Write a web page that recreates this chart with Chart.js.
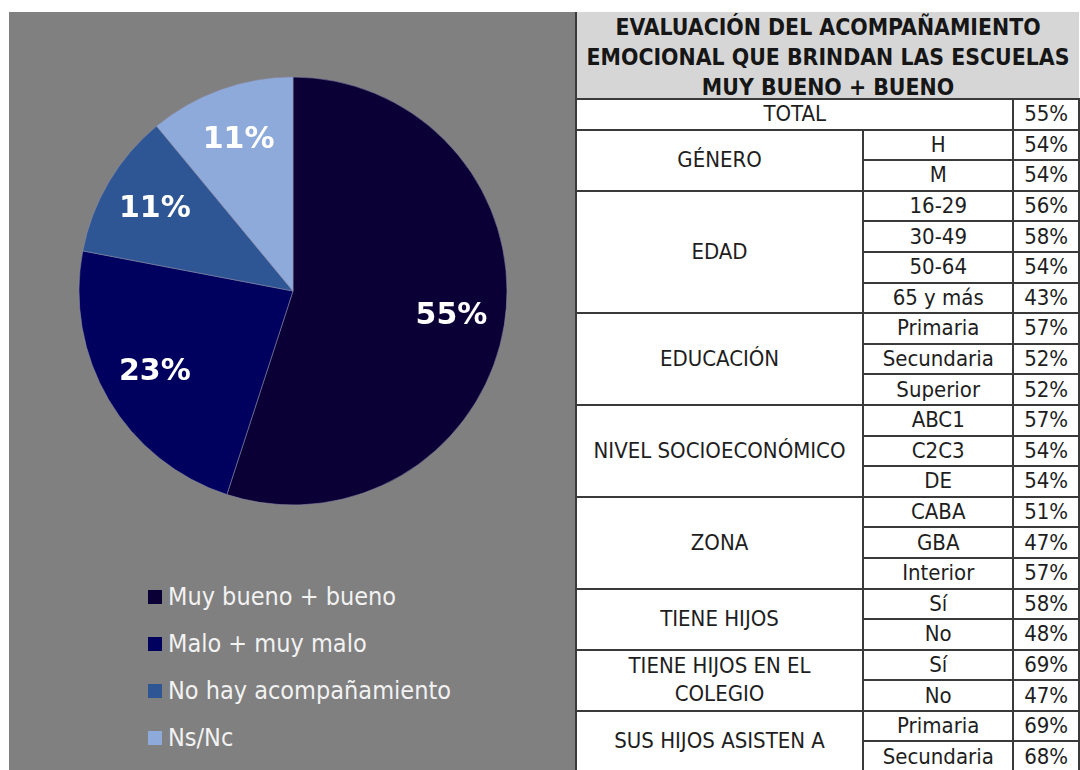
<!DOCTYPE html>
<html>
<head>
<meta charset="utf-8">
<script src="https://cdn.jsdelivr.net/npm/chart.js@4.4.0/dist/chart.umd.min.js"></script>
<style>
  html, body { margin: 0; padding: 0; background: #fff; width: 1080px; height: 770px; overflow: hidden; }
  #panel { position: absolute; left: 9px; top: 12px; width: 566px; height: 758px; background: #808080; }
  #pieBox { position: absolute; left: 69px; top: 64px; width: 430px; height: 430px; }
  #legend { position: absolute; left: 139px; top: 561px; font-family: "DejaVu Sans Condensed", "DejaVu Sans", sans-serif; font-stretch: condensed; font-size: 25px; color: #f2f2f2; }
  #legend div { height: 47px; display: flex; align-items: center; }
  #legend span.box { width: 14px; height: 14px; margin-right: 6px; display: inline-block; }
  #tbl { position: absolute; left: 575px; top: 12px; border-collapse: collapse; table-layout: fixed; font-family: "DejaVu Sans Condensed", "DejaVu Sans", sans-serif; font-stretch: condensed; font-size: 22px; color: #1e1e1e; }
  #tbl td { border: 2px solid #3a3a3a; padding: 0; text-align: center; height: 28.6px; line-height: 28px; overflow: hidden; white-space: pre-line; }
  #tbl td.sub, #tbl td.val { border-left-color: #6a6a6a; }
  #tbl td.head { background: #d6d6d6; font-weight: bold; font-size: 22.8px; height: 86px; color: #161616; border-top: none; border-right: none; overflow: visible; vertical-align: top; }
  #tbl td.head div { height: 86px; line-height: 30px; overflow: visible; }
</style>
</head>
<body>
<div id="panel">
  <div id="pieBox"><canvas id="pie"></canvas></div>
  <div id="legend"></div>
</div>
<table id="tbl">
  <colgroup><col style="width:289px"><col style="width:151px"><col style="width:66px"></colgroup>
  <tbody id="tbody"></tbody>
</table>
<script>
// pie data
const pieLabels = ["Muy bueno + bueno", "Malo + muy malo", "No hay acompañamiento", "Ns/Nc"];
const pieValues = [55, 23, 11, 11];
const pieColors = ["#0b0035", "#00005f", "#2e5594", "#8eaadb"];

// table data
const titleLines = ["EVALUACIÓN DEL ACOMPAÑAMIENTO", "EMOCIONAL QUE BRINDAN LAS ESCUELAS", "MUY BUENO + BUENO"];
const totalLabel = "TOTAL";
const totalValue = 55;
const groupNames = ["GÉNERO", "EDAD", "EDUCACIÓN", "NIVEL SOCIOECONÓMICO", "ZONA", "TIENE HIJOS", "TIENE HIJOS EN EL\nCOLEGIO", "SUS HIJOS ASISTEN A"];
const groupItems = [
  ["H", "M"],
  ["16-29", "30-49", "50-64", "65 y más"],
  ["Primaria", "Secundaria", "Superior"],
  ["ABC1", "C2C3", "DE"],
  ["CABA", "GBA", "Interior"],
  ["Sí", "No"],
  ["Sí", "No"],
  ["Primaria", "Secundaria"]
];
const groupValues = [
  [54, 54],
  [56, 58, 54, 43],
  [57, 52, 52],
  [57, 54, 54],
  [51, 47, 57],
  [58, 48],
  [69, 47],
  [69, 68]
];

// labels inside slices
const sliceLabels = {
  id: "sliceLabels",
  afterDatasetsDraw(chart) {
    const ctx = chart.ctx;
    const meta = chart.getDatasetMeta(0);
    ctx.save();
    ctx.fillStyle = "#ffffff";
    ctx.font = "bold 30px 'DejaVu Sans', sans-serif";
    ctx.textAlign = "center";
    ctx.textBaseline = "middle";
    meta.data.forEach((arc, i) => {
      const p = arc.getProps(["x", "y", "startAngle", "endAngle", "outerRadius"], true);
      const mid = (p.startAngle + p.endAngle) / 2;
      const r = p.outerRadius * 0.75;
      ctx.fillText(pieValues[i] + "%", p.x + Math.cos(mid) * r, p.y + Math.sin(mid) * r);
    });
    ctx.restore();
  }
};

new Chart(document.getElementById("pie"), {
  type: "pie",
  data: {
    labels: pieLabels,
    datasets: [{
      data: pieValues,
      backgroundColor: pieColors,
      borderColor: "rgba(140,140,170,0.55)",
      borderWidth: 1,
      hoverOffset: 0
    }]
  },
  options: {
    responsive: true,
    maintainAspectRatio: false,
    animation: false,
    radius: 214,
    layout: { padding: 0 },
    plugins: {
      legend: { display: false },
      tooltip: { enabled: false }
    }
  },
  plugins: [sliceLabels]
});

// legend
document.getElementById("legend").innerHTML = pieLabels.map((l, i) =>
  `<div><span class="box" style="background:${pieColors[i]}"></span>${l}</div>`
).join("");

// table
let rows = `<tr><td class="head" colspan="3"><div>${titleLines.join("\n")}</div></td></tr>`;
rows += `<tr><td colspan="2">${totalLabel}</td><td class="val">${totalValue}%</td></tr>`;
groupNames.forEach((g, gi) => {
  groupItems[gi].forEach((it, k) => {
    rows += "<tr>";
    if (k === 0) rows += `<td rowspan="${groupItems[gi].length}">${g}</td>`;
    rows += `<td class="sub">${it}</td><td class="val">${groupValues[gi][k]}%</td></tr>`;
  });
});
document.getElementById("tbody").innerHTML = rows;
</script>
</body>
</html>
